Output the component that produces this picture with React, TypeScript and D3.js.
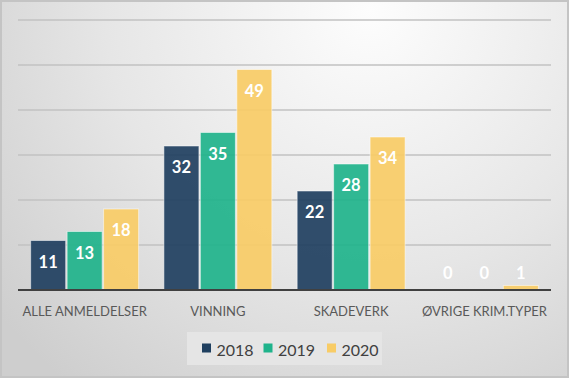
import React from "react";
import * as d3 from "d3";

const categories = ["ALLE ANMELDELSER", "VINNING", "SKADEVERK", "ØVRIGE KRIM.TYPER"];
const seriesNames = ["2018", "2019", "2020"];
const values2018 = [11, 32, 22, 0];
const values2019 = [13, 35, 28, 0];
const values2020 = [18, 49, 34, 1];
const yTicks = [0, 10, 20, 30, 40, 50, 60];
const colors = ["#1f3f5f", "#1fb38b", "#f8cc66"];

const W = 569;
const H = 378;

export default function App() {
  const series = [values2018, values2019, values2020];
  const x0 = d3.scaleBand().domain(categories).range([18, 551]).paddingInner(0.19).paddingOuter(0.095);
  const x1 = d3.scaleBand().domain(seriesNames).range([0, x0.bandwidth()]).paddingInner(0.04);
  const y = d3.scaleLinear().domain([0, 60]).range([290, 20]);
  const font = "Lato, 'Open Sans', sans-serif";

  return (
    <svg width={W} height={H} style={{ position: "absolute", left: 0, top: 0 }} xmlns="http://www.w3.org/2000/svg">
      <defs>
        <radialGradient id="bg" gradientUnits="userSpaceOnUse" cx={370} cy={10} r={480}>
          <stop offset="0" stopColor="#fdfdfd" />
          <stop offset="0.55" stopColor="#e6e6e6" />
          <stop offset="1" stopColor="#cecece" />
        </radialGradient>
      </defs>
      <rect x={0} y={0} width={W} height={H} fill="#c4c4c4" />
      <rect x={2} y={2} width={W - 4} height={H - 4} fill="url(#bg)" />
      {yTicks.filter((t) => t > 0).map((t) => (
        <line key={t} x1={18} x2={551} y1={y(t)} y2={y(t)} stroke="#c2c2c2" strokeWidth={1.5} />
      ))}
      {categories.map((c, ci) => (
        <g key={c} transform={`translate(${x0(c)},0)`}>
          {seriesNames.map((s, si) => {
            const v = series[si][ci];
            const bx = x1(s)!;
            const top = y(v);
            const h = y(0) - top;
            const big = h > 30;
            return (
              <g key={s}>
                {h > 0 && (
                  <rect x={bx} y={top} width={x1.bandwidth()} height={h} fill={colors[si]} fillOpacity={0.92}
                    stroke="#ffffff" strokeOpacity={0.5} strokeWidth={1} />
                )}
                <text x={bx + x1.bandwidth() / 2} y={big ? top + 21 : y(0) - 17} textAnchor="middle"
                  dominantBaseline="central" fill="#ffffff" fontFamily={font} fontWeight={700} fontSize={16.5}>
                  {v}
                </text>
              </g>
            );
          })}
          <text x={x0.bandwidth() / 2} y={311} textAnchor="middle" dominantBaseline="central"
            fill="#595959" fontFamily={font} fontSize={13}>
            {c}
          </text>
        </g>
      ))}
      <line x1={18} x2={551} y1={y(0)} y2={y(0)} stroke="#404040" strokeWidth={2} />
      <rect x={187} y={332} width={195} height={33} fill="#e5e5e5" />
      {seriesNames.map((s, i) => {
        const lx = [202, 263.5, 327][i];
        return (
          <g key={s}>
            <rect x={lx} y={343.5} width={9} height={9} fill={colors[i]} />
            <text x={lx + 14.5} y={349} dominantBaseline="central" fill="#404040" fontFamily={font} fontSize={16}>
              {s}
            </text>
          </g>
        );
      })}
    </svg>
  );
}
